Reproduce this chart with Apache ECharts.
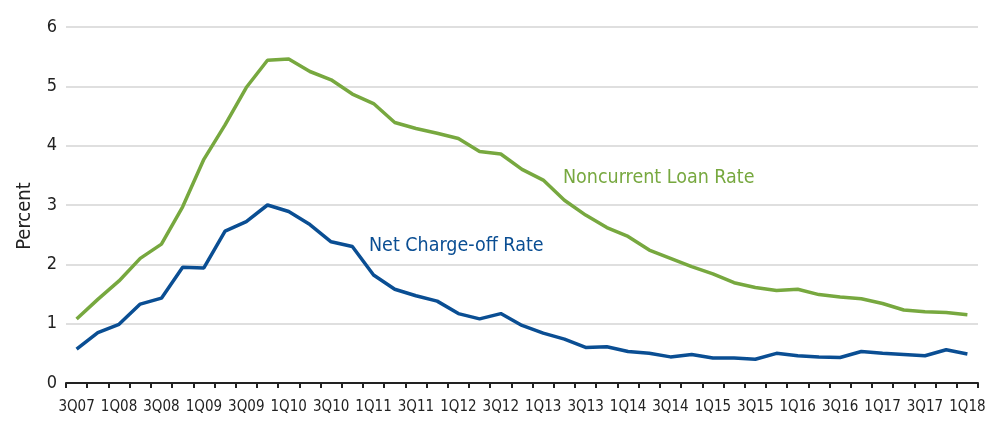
<!DOCTYPE html>
<html><head><meta charset="utf-8">
<script src="https://cdn.jsdelivr.net/npm/echarts@6/dist/echarts.min.js"></script>
<style>html,body{margin:0;padding:0;background:#fff}#c{width:1000px;height:436px}</style>
</head><body><div id="c"></div>
<script>
const quarters = ["3Q07","4Q07","1Q08","2Q08","3Q08","4Q08","1Q09","2Q09","3Q09","4Q09","1Q10","2Q10","3Q10","4Q10","1Q11","2Q11","3Q11","4Q11","1Q12","2Q12","3Q12","4Q12","1Q13","2Q13","3Q13","4Q13","1Q14","2Q14","3Q14","4Q14","1Q15","2Q15","3Q15","4Q15","1Q16","2Q16","3Q16","4Q16","1Q17","2Q17","3Q17","4Q17","1Q18"];
const noncurrentLoanRate = [1.08,1.41,1.72,2.10,2.34,2.97,3.77,4.35,4.98,5.44,5.46,5.25,5.11,4.87,4.71,4.39,4.29,4.21,4.12,3.90,3.86,3.60,3.42,3.08,2.83,2.62,2.47,2.24,2.10,1.96,1.84,1.69,1.61,1.56,1.58,1.49,1.45,1.42,1.34,1.23,1.20,1.19,1.15];
const netChargeOffRate = [0.57,0.85,0.99,1.33,1.43,1.95,1.94,2.56,2.72,3.00,2.89,2.67,2.38,2.30,1.82,1.58,1.47,1.38,1.17,1.08,1.17,0.97,0.84,0.74,0.60,0.61,0.53,0.50,0.44,0.48,0.42,0.42,0.40,0.50,0.46,0.44,0.43,0.53,0.50,0.48,0.46,0.56,0.49];
const yTicks = [0,1,2,3,4,5,6];

const GREEN = '#77a83f', BLUE = '#0a4e93';
const FONT = '"DejaVu Sans Condensed", "Liberation Sans Narrow", "Noto Sans", sans-serif';
const chart = echarts.init(document.getElementById('c'), null, {renderer:'canvas'});
chart.setOption({
  animation:false,
  grid:{left:66, right:22, top:27, bottom:53},
  xAxis:{
    type:'category', data:quarters, boundaryGap:true,
    axisLine:{lineStyle:{color:'#222', width:2}},
    axisTick:{show:true, alignWithLabel:false, interval:0, length:5, lineStyle:{color:'#222', width:2}},
    axisLabel:{interval:1, color:'#222', fontFamily:FONT, fontSize:15, margin:17},
    splitLine:{show:false}
  },
  yAxis:{
    type:'value', min:yTicks[0], max:yTicks[yTicks.length-1], interval:1,
    axisLine:{show:false}, axisTick:{show:false},
    axisLabel:{color:'#222', fontFamily:FONT, fontSize:18, margin:9},
    splitLine:{lineStyle:{color:'#d4d4d4', width:1.5}}
  },
  series:[
    {type:'line', name:'Noncurrent Loan Rate', data:noncurrentLoanRate, symbol:'none',
     lineStyle:{color:GREEN, width:3.5}, z:2},
    {type:'line', name:'Net Charge-off Rate', data:netChargeOffRate, symbol:'none',
     lineStyle:{color:BLUE, width:3.5}, z:3}
  ],
  graphic:[
    {type:'text', x:25, y:216, rotation:Math.PI/2,
     style:{text:'Percent', fill:'#222', font:'20px '+FONT, textAlign:'center', textVerticalAlign:'middle'}},
    {type:'text', left:563, top:168, style:{text:'Noncurrent Loan Rate', fill:GREEN, font:'19.5px '+FONT}},
    {type:'text', left:369, top:236, style:{text:'Net Charge-off Rate', fill:BLUE, font:'19.5px '+FONT}}
  ]
});
</script></body></html>
